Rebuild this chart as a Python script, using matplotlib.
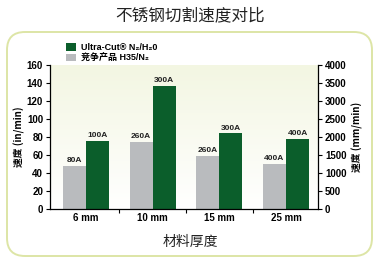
import matplotlib
matplotlib.use("Agg")
import matplotlib.pyplot as plt
import numpy as np
from matplotlib.patches import FancyBboxPatch, Patch
from matplotlib.colors import LinearSegmentedColormap

categories = ["6 mm", "10 mm", "15 mm", "25 mm"]
ultra_cut = [76, 137, 84, 78]
competitor = [48, 75, 59, 50]
ultra_labels = ["100A", "300A", "300A", "400A"]
comp_labels = ["80A", "260A", "260A", "400A"]
left_ticks = [0, 20, 40, 60, 80, 100, 120, 140, 160]
right_ticks = [0, 500, 1000, 1500, 2000, 2500, 3000, 3500, 4000]

GREEN = "#0b5e2b"
GRAY = "#b9bbbe"
LAT = ["Liberation Sans", "DejaVu Sans", "Noto Sans CJK SC"]
CJK = ["Noto Sans CJK SC", "DejaVu Sans"]

fig = plt.figure(figsize=(3.8, 2.73), dpi=100)

# rounded frame
box = FancyBboxPatch((0.07, 0.17), 3.65, 2.24,
                     boxstyle="round,pad=0,rounding_size=0.18",
                     transform=fig.dpi_scale_trans, facecolor="white",
                     edgecolor="#dde5a6", linewidth=1.4, zorder=-5)
fig.patches.append(box)

fig.text(190/380, 1-16/273, "不锈钢切割速度对比", ha="center", va="center",
         fontsize=12, family=CJK, color="#222222")

ax = fig.add_axes([50/380, 1-209/273, 268/380, 144/273])
ax.set_facecolor("none")
grad = np.linspace(0, 1, 256).reshape(-1, 1)
cmap = LinearSegmentedColormap.from_list("g", ["#ffffff", "#f3f6e2"])
ax.imshow(grad, aspect="auto", cmap=cmap, extent=[0, 1, 0, 1],
          transform=ax.transAxes, origin="lower", zorder=0)

x = np.arange(len(categories))
w = 0.345
b1 = ax.bar(x - w/2, competitor, w, color=GRAY, zorder=2)
b2 = ax.bar(x + w/2, ultra_cut, w, color=GREEN, zorder=2)
for rect, lab in zip(b1, comp_labels):
    ax.text(rect.get_x() + rect.get_width()/2, rect.get_height() + 2, lab,
            ha="center", va="bottom", fontsize=6, fontweight="bold",
            family=LAT, color="#222222")
for rect, lab in zip(b2, ultra_labels):
    ax.text(rect.get_x() + rect.get_width()/2, rect.get_height() + 2, lab,
            ha="center", va="bottom", fontsize=6, fontweight="bold",
            family=LAT, color="#222222")

ax.set_xlim(-0.54, 3.48)
ax.set_ylim(0, 160)
ax.set_yticks(left_ticks)
ax.set_xticks(x)
ax.set_xticklabels(categories, fontsize=7, fontweight="bold", family=LAT)
ax.set_xticks([0.5, 1.5, 2.5], minor=True)
ax.tick_params(axis="x", which="major", length=0, pad=3)
ax.tick_params(axis="x", which="minor", length=3, direction="out", width=0.8)
ax.tick_params(axis="y", length=3, width=0.8, pad=2)
for t in ax.get_yticklabels():
    t.set_fontsize(7); t.set_fontweight("bold"); t.set_family(LAT)
for s in ["top", "right"]:
    ax.spines[s].set_visible(False)
for s in ["left", "bottom"]:
    ax.spines[s].set_linewidth(0.9)
ax.set_ylabel("速度 (in/min)", fontsize=7, family=CJK, labelpad=1, fontweight="bold")

ax2 = ax.twinx()
ax2.set_ylim(0, 4000)
ax2.set_yticks(right_ticks)
ax2.tick_params(axis="y", length=3, width=0.8, pad=2)
for t in ax2.get_yticklabels():
    t.set_fontsize(7); t.set_fontweight("bold"); t.set_family(LAT)
for s in ["top", "left", "bottom"]:
    ax2.spines[s].set_visible(False)
ax2.spines["right"].set_linewidth(0.9)
ax2.set_ylabel("速度 (mm/min)", fontsize=7, family=CJK, labelpad=4, fontweight="bold")

fig.text(190/380, 1-242/273, "材料厚度", ha="center", va="center",
         fontsize=10, family=CJK, color="#222222")

handles = [Patch(facecolor=GREEN, edgecolor="none"),
           Patch(facecolor=GRAY, edgecolor="none")]
labels = ["Ultra-Cut® N₂/H₂0", "竞争产品 H35/N₂"]
leg = fig.legend(handles, labels, loc="upper left",
                 bbox_to_anchor=(60/380, 1-37/273), frameon=False,
                 handlelength=1.1, handleheight=0.9, handletextpad=0.5,
                 labelspacing=0.15, borderpad=0.2,
                 prop={"family": LAT, "size": 6.5, "weight": "bold"})

fig.savefig("out.png", dpi=100)
